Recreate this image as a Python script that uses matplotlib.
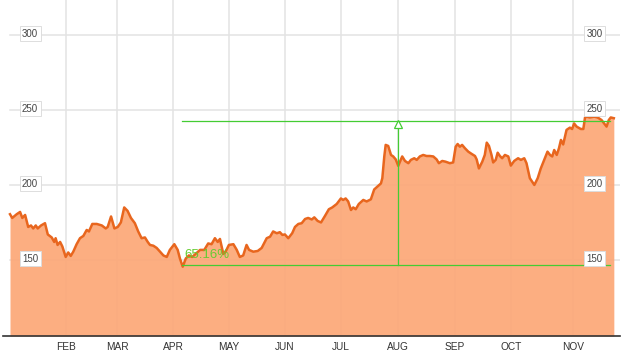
import matplotlib
matplotlib.use("Agg")
import matplotlib.pyplot as plt
from matplotlib.transforms import blended_transform_factory

# ---- data (trading-day index, price) ----
days = [0, 0.8, 2.4, 3.6, 4.4, 5.4, 6.5, 7.5, 8.3, 9.2, 9.9, 11.1, 12.5, 13.5, 14.9,
        15.8, 16.3, 17.0, 17.9, 18.7, 19.9, 20.8, 21.7, 22.6, 23.8, 25.0, 26.2, 27.4,
        28.2, 29.4, 31.0, 32.8, 34.2, 34.9, 36.1, 37.3, 38.5, 39.6, 40.8, 42.0, 43.2,
        44.6, 45.8, 47.0, 48.2, 49.2, 50.0, 51.2, 52.4, 53.6, 54.8, 56.0, 57.1, 58.7,
        59.9, 60.7, 61.7, 62.8, 63.9, 65.1, 66.3, 67.9, 69.4, 70.8, 72.0, 73.2, 74.2,
        75.0, 76.2, 77.0, 78.2, 79.8, 81.0, 82.1, 83.3, 84.5, 85.4, 86.9, 88.5, 89.9,
        91.7, 92.9, 94.0, 95.3, 96.4, 97.3, 98.2, 99.4, 100.8, 101.8, 103.0, 104.2,
        105.4, 106.5, 107.8, 108.7, 109.9, 111.1, 112.5, 113.9, 115.1, 116.7, 118.2,
        119.0, 119.9, 120.8, 121.8, 122.6, 123.5, 124.6, 126.2, 127.4, 128.9, 130.1,
        131.3, 132.5, 133.0, 133.7, 134.2, 135.1, 136.1, 136.9, 137.8, 138.7, 139.3,
        140.1, 141.1, 142.3, 143.2, 144.4, 145.3, 146.4, 147.6, 148.8, 150.0, 151.2,
        152.4, 153.2, 154.4, 155.6, 157.1, 158.3, 159.2, 159.9, 160.7, 161.5, 162.5,
        163.7, 164.9, 166.1, 166.7, 167.5, 168.7, 169.6, 170.3, 171.1, 172.0, 172.6,
        173.5, 174.2, 175.0, 175.8, 176.8, 178.0, 178.9, 180.1, 181.5, 182.5, 183.7,
        184.5, 185.7, 187.3, 188.5, 189.6, 190.8, 192.0, 192.9, 193.7, 194.4, 195.3,
        196.1, 196.8, 197.6, 198.8, 200.0, 200.8, 201.5, 202.4, 203.9, 204.8, 205.4,
        206.0, 207.1, 208.7, 209.9, 211.3, 213.1, 213.9, 214.6, 215.7]
prices = [180.5, 178, 180.5, 182, 178, 180, 172, 173, 171, 173, 171, 173, 174.5, 167, 165,
          162, 164.5, 160, 162, 159, 152, 155, 152.7, 155.5, 160.5, 164.5, 166, 170,
          169, 174, 174, 173, 171, 172, 179, 171, 172, 175, 185, 182.7, 178,
          174.5, 169, 164.5, 165, 162, 160, 159.5, 158, 155.5, 153, 152, 156.7, 160.5,
          156.7, 151, 145.5, 151, 153, 152, 154, 156.7, 156.7, 161, 160.5, 164.5, 162,
          164, 154, 155.5, 160, 160.5, 156.7, 152, 153, 160, 156.7, 155.5, 156, 158,
          164.5, 165.5, 169, 167.8, 168.5, 166.7, 167, 164.5, 167.8, 172, 174, 174.5,
          177.3, 178, 177, 178.4, 176, 175, 179.3, 183.8, 185, 187.3, 191,
          190, 191, 189, 183.3, 185, 183.8, 187.3, 190, 189, 190.4, 197,
          199, 201, 204.5, 219, 226.7, 226, 220, 219, 217, 212.7, 215.5,
          219, 216, 214.5, 216.7, 217.8, 216.7, 219, 220, 219.3, 219.3, 219,
          217, 214.5, 216, 215.5, 214.5, 215, 225.5, 227.3, 225.5, 226.7, 224.5,
          222.2, 220.7, 219.3, 217, 211, 215.5, 220, 228.2, 226, 220, 215,
          216.7, 221.5, 219.3, 217.8, 220, 219, 212.9, 216, 217.8, 216.7, 217.8,
          214.5, 204.5, 200, 204.5, 211, 216.7, 222.2, 220, 219, 223.3, 220,
          224.5, 230, 227, 236.7, 238.2, 237.3, 241, 238.9, 237.3, 237.3, 244.9,
          245.5, 245, 245.5, 245, 243.3, 238.9, 243.3, 245, 244.5]

month_labels = ["FEB", "MAR", "APR", "MAY", "JUN", "JUL", "AUG", "SEP", "OCT", "NOV"]
month_pos = [20.0, 38.2, 58.2, 78.2, 98.2, 118.2, 138.6, 158.9, 178.9, 201.1]
y_ticks = [150, 200, 250, 300]

# measurement annotation
meas_start, meas_end, meas_x = 61.5, 214.3, 138.6
meas_low, meas_high = 146.7, 242.7
meas_text = "65.16%"

y_min, y_max = 99.3, 323.3
x_min, x_max = -2.5, 217.9

fig = plt.figure(figsize=(6.24, 3.52), dpi=100)
ax = fig.add_axes([3 / 624, 16 / 352, 617 / 624, 336 / 352])
ax.set_xlim(x_min, x_max)
ax.set_ylim(y_min, y_max)

grid_c = "#e3e3e3"
for yv in y_ticks:
    ax.axhline(yv, color=grid_c, lw=1.1, zorder=0, xmin=7 / 617)
for xv in month_pos:
    ax.axvline(xv, color=grid_c, lw=1.1, zorder=0)

ax.fill_between(days, prices, y_min, color="#fca878", alpha=0.93, lw=0, zorder=1)
ax.plot(days, prices, color="#e8661e", lw=1.8, zorder=3, solid_joinstyle="round")

green = "#44cc33"
ax.plot([meas_start, meas_end], [meas_high, meas_high], color=green, lw=0.9, zorder=4)
ax.plot([meas_start, meas_end], [meas_low, meas_low], color=green, lw=0.9, zorder=4)
ax.plot([meas_x, meas_x], [meas_low, meas_high], color=green, lw=0.9, zorder=4)
ax.plot([meas_x], [meas_high - 2.3], marker="^", ms=6, mfc="white", mec=green,
        mew=0.9, zorder=5, linestyle="none")
ax.text(meas_start + 0.8, meas_low + 2.3, meas_text, color="#66cc33", fontsize=9.5,
        family="Liberation Sans", va="bottom", ha="left", zorder=5)

for s in ["top", "left", "right"]:
    ax.spines[s].set_visible(False)
ax.spines["bottom"].set_color("#333333")
ax.spines["bottom"].set_linewidth(1.2)
ax.spines["bottom"].set_zorder(6)

ax.set_yticks([])
ax.set_xticks(month_pos, month_labels)
ax.tick_params(axis="x", length=0, pad=4, labelsize=7.3, labelcolor="#333333")
for lbl in ax.get_xticklabels():
    lbl.set_family("Liberation Sans")

trans = blended_transform_factory(ax.transAxes, ax.transData)
for yv in y_ticks:
    for xa in (0.0438, 0.9587):
        ax.text(xa, yv + 0.8, str(yv), transform=trans, ha="center", va="center",
                fontsize=7, color="#444444", family="Liberation Sans", zorder=7,
                bbox=dict(boxstyle="square,pad=0.25", fc="white", ec="#dddddd", lw=0.7))

fig.savefig("out.png", dpi=100)
